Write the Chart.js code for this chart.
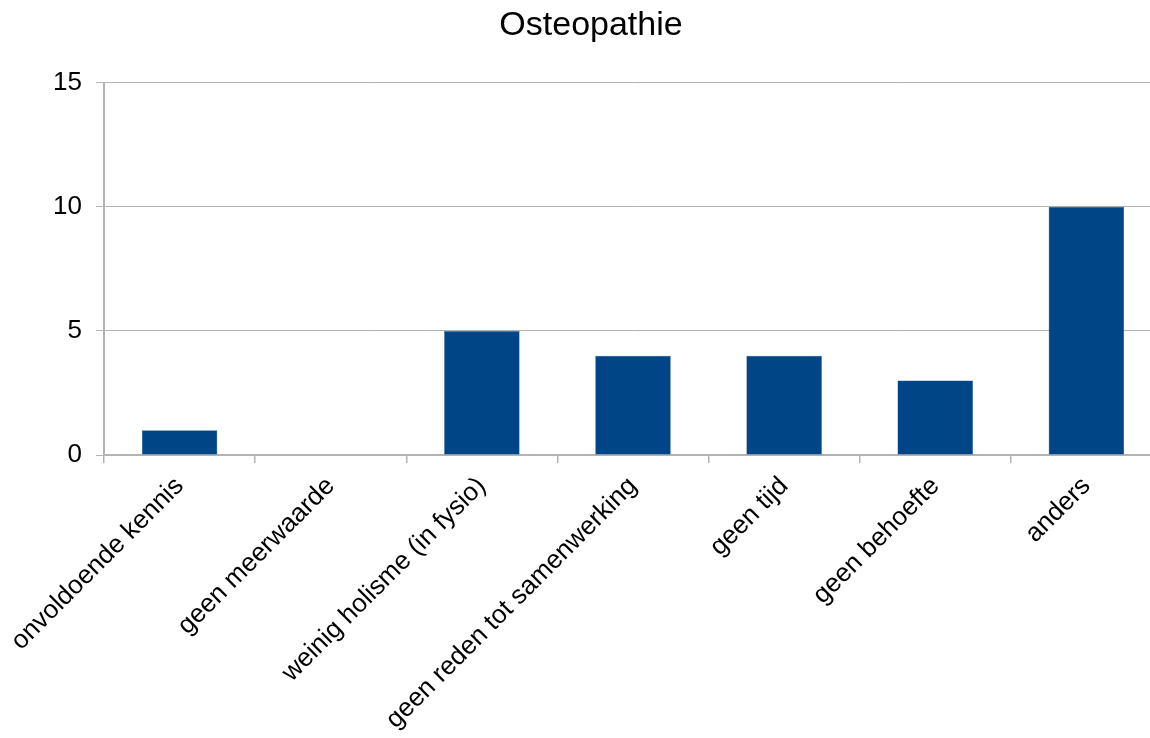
<!DOCTYPE html>
<html>
<head>
    <title>Osteopathie</title>
    <script src="https://cdn.jsdelivr.net/npm/chart.js"></script>
    <style>
        html, body {
            margin: 0;
            padding: 0;
            background: #ffffff;
            overflow: hidden;
        }
        .chart-container {
            width: 1162px;
            height: 738px;
        }
    </style>
</head>
<body>
    <div class="chart-container">
        <canvas id="barChart"></canvas>
    </div>

    <script>
        const categories = ['onvoldoende kennis', 'geen meerwaarde', 'weinig holisme (in fysio)', 'geen reden tot samenwerking', 'geen tijd', 'geen behoefte', 'anders'];
        const counts = [1, 0, 5, 4, 4, 3, 10];
        const yTicks = [0, 5, 10, 15];

        const fontFamily = "'Liberation Sans', Arial, sans-serif";
        const lineGray = '#b3b3b3';

        const ctx = document.getElementById('barChart').getContext('2d');
        const chart = new Chart(ctx, {
            type: 'bar',
            data: {
                labels: categories,
                datasets: [{
                    label: 'Osteopathie',
                    data: counts,
                    backgroundColor: '#004586',
                    borderColor: '#2d5f93',
                    borderWidth: 0.5,
                    barPercentage: 0.5,
                    categoryPercentage: 1.0
                }]
            },
            options: {
                responsive: true,
                maintainAspectRatio: false,
                animation: false,
                // left padding nudges the title a bit to the right; the y axis shrinks to compensate
                layout: { padding: { left: 20, right: 0, top: 0, bottom: 0 } },
                plugins: {
                    legend: { display: false },
                    tooltip: { enabled: false },
                    title: {
                        display: true,
                        text: 'Osteopathie',
                        color: '#000000',
                        font: { family: fontFamily, size: 34, weight: 'normal' },
                        padding: { top: 5, bottom: 37 }
                    }
                },
                scales: {
                    x: {
                        grid: {
                            offset: true,
                            drawOnChartArea: false,
                            drawTicks: true,
                            tickLength: 8,
                            color: lineGray,
                            lineWidth: 1.5
                        },
                        border: { color: lineGray, width: 2 },
                        ticks: {
                            color: '#000000',
                            font: { family: fontFamily, size: 26 },
                            minRotation: 45,
                            maxRotation: 45,
                            autoSkip: false,
                            padding: 8
                        },
                        afterFit: (scale) => { scale.height = 283; }
                    },
                    y: {
                        min: 0,
                        max: 15,
                        afterBuildTicks: (scale) => {
                            scale.ticks = yTicks.map(v => ({ value: v }));
                        },
                        grid: {
                            color: lineGray,
                            lineWidth: 1,
                            drawTicks: true,
                            tickLength: 8
                        },
                        border: { color: lineGray, width: 2 },
                        ticks: {
                            color: '#000000',
                            font: { family: fontFamily, size: 26 },
                            padding: 14
                        },
                        afterFit: (scale) => { scale.width = 84; }
                    }
                }
            }
        });
    </script>
</body>
</html>
